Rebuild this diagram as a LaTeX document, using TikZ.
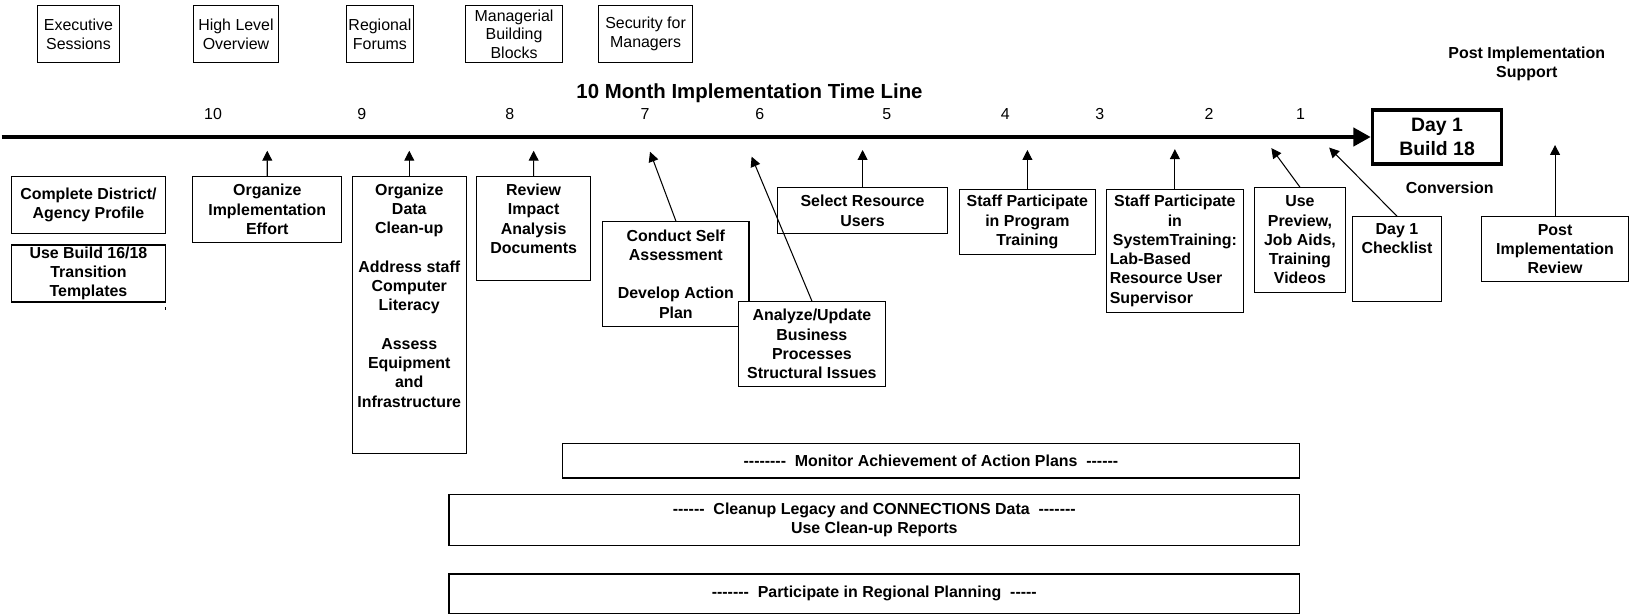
\documentclass[tikz,border=0pt]{standalone}
\usepackage{fontspec}
\newfontfamily\arial{Liberation Sans}
\usetikzlibrary{arrows.meta}
\newcommand\bodyb{\arial\bfseries\fontsize{11.5}{13.9}\selectfont}
\newcommand\bodyr{\arial\fontsize{11.5}{13.5}\selectfont}
\newcommand\hy{-\kern0pt}
\tikzset{
  box/.style={draw, line width=0.75pt, fill=white, inner sep=0pt, align=center, font=\bodyb},
  topbox/.style={box, font=\bodyr},
  bar/.style={box, line width=1pt},
  lbl/.style={inner sep=0pt, font=\bodyb},
  num/.style={inner sep=0pt, font=\bodyr, anchor=base},
  arr/.style={line width=0.75pt, -{Triangle[length=7.2pt,width=7.2pt]}},
  timeline/.style={line width=2.9pt, -{Triangle[length=12.5pt,width=13pt]}},
}
\newcommand\bx[7][]{\node[box,#1, minimum width={(#4-#2)*0.75pt}, minimum height={(#5-#3)*0.75pt}] (#6) at ({(#2+#4)/2},{(#3+#5)/2}) {#7};}
\begin{document}
\begin{tikzpicture}[x=0.75pt,y=-0.75pt]
\useasboundingbox (0,0) rectangle (1568,591);

% top boxes
\bx[topbox]{36}{5.5}{115}{60}{exec}{Executive\\Sessions}
\bx[topbox]{186}{5.5}{268}{60}{high}{High Level\\Overview}
\bx[topbox]{333}{5.5}{398}{60}{reg}{Regional\\Forums}
\bx[topbox]{448}{5.5}{541}{60}{mgr}{Managerial\\Building\\Blocks}
\bx[topbox]{576}{5.5}{666}{60}{sec}{Security for\\Managers}

% title and months
\node[lbl, font=\arial\bfseries\fontsize{14.7}{17}\selectfont, anchor=base] (title) at (721,95) {10 Month Implementation Time Line};
\foreach \n/\x in {10/205, 9/348, 8/490.5, 7/620.5, 6/731, 5/853, 4/967, 3/1058, 2/1163, 1/1251}
  \node[num] (m\n) at (\x,115) {\n};

\node[lbl, align=center] (pis) at (1468.7,61.4) {Post Implementation\\Support};

% Day 1 box and timeline
\node[draw, line width=2.4pt, inner sep=0pt, minimum width={124.4*0.75pt}, minimum height={52*0.75pt}, align=center, font=\arial\bfseries\fontsize{14}{16.8}\selectfont] (day1) at (1382.4,131.8) {Day 1\\Build 18};
\coordinate (tls) at (1.6,131.8);
\draw[timeline] (tls) -- (day1.west);
\node[lbl, anchor=base] (conv) at (1394.5,186) {Conversion};

% lower boxes
\bx{11.2}{170}{159}{224.5}{cdap}{Complete District/\\Agency Profile}
\bx{11.2}{235.7}{159}{290.5}{ubt}{Use Build 16/18\\Transition\\Templates}
\draw[line width=0.5pt] (158.7,295.5) -- (158.7,298.5);
\bx{185.4}{170}{328.8}{233}{oie}{Organize\\Implementation\\Effort}
\bx{339}{170}{448.4}{436.7}{odc}{}
\node[lbl, align=center, anchor=north] (odc-t) at ([yshift=-5.25pt]odc.north) {Organize\\Data\\Clean-up\\[13.9pt]Address staff\\Computer\\Literacy\\[13.9pt]Assess\\Equipment\\and\\Infrastructure};
\bx{458.7}{170}{568}{270}{ria}{}
\node[lbl, align=center, anchor=north] (ria-t) at ([yshift=-5.4pt]ria.north) {Review\\Impact\\Analysis\\Documents};
\bx{579.8}{213}{720.5}{314}{csa}{Conduct Self\\Assessment\\[13.9pt]Develop Action\\Plan}
\bx{710}{290}{852}{372}{aub}{Analyze/Update\\Business\\Processes\\Structural Issues}
\bx{748}{180.5}{911.6}{225}{sru}{Select Resource\\Users}
\bx{922.6}{182}{1054}{245}{spt}{Staff Participate\\in Program\\Training}
\bx[align=left]{1064.6}{182}{1195.8}{300.8}{sst}{\makebox[94pt]{Staff Participate}\\\makebox[94pt]{in}\\\makebox[94pt]{SystemTraining:}\\Lab-Based\\Resource User\\Supervisor}
\bx{1207}{180.5}{1294}{281}{upv}{Use\\Preview,\\Job Aids,\\Training\\Videos}
\bx{1300.6}{208.4}{1387}{290}{d1c}{}
\node[lbl, align=center, anchor=north] (d1c-t) at ([yshift=-5.25pt]d1c.north) {Day 1\\Checklist};
\bx{1424.8}{208}{1567}{271}{pir}{Post\\Implementation\\Review}

% bars
\bx[bar]{541}{426.5}{1250}{460}{mon}{\hy\hy\hy\hy\hy\hy\hy\hy\ \ Monitor Achievement of Action Plans\ \ \hy\hy\hy\hy\hy\hy}
\bx[bar]{432}{475.5}{1250}{525}{clu}{\hy\hy\hy\hy\hy\hy\ \ Cleanup Legacy and CONNECTIONS Data\ \ \hy\hy\hy\hy\hy\hy\hy\\Use Clean-up Reports}
\bx[bar]{432}{552}{1250}{590}{prp}{\hy\hy\hy\hy\hy\hy\hy\ \ Participate in Regional Planning\ \ \hy\hy\hy\hy\hy}

% arrows to the timeline
\coordinate (t-oie) at (257.1,145);
\coordinate (t-odc) at (393.7,145);
\coordinate (t-ria) at (513.35,145);
\coordinate (t-csa) at (625.3,146);
\coordinate (t-aub) at (723,150.7);
\coordinate (t-sru) at (829.8,144.3);
\coordinate (t-spt) at (988.3,144.3);
\coordinate (t-sst) at (1130.2,143.5);
\coordinate (t-upv) at (1223,142.5);
\coordinate (t-d1c) at (1278.6,142);
\coordinate (t-pir) at (1495.9,139.5);
\draw[arr] (oie.north) -- (t-oie);
\draw[arr] (odc.north) -- (t-odc);
\draw[arr] (ria.north) -- (t-ria);
\draw[arr] (csa.north) -- (t-csa);
\draw[arr] (aub.north) -- (t-aub);
\draw[arr] (sru.north) -- (t-sru);
\draw[arr] (spt.north) -- (t-spt);
\draw[arr] (sst.north) -- (t-sst);
\draw[arr] (upv.north) -- (t-upv);
\draw[arr] (d1c.north) -- (t-d1c);
\draw[arr] (pir.north) -- (t-pir);
\end{tikzpicture}
\end{document}
